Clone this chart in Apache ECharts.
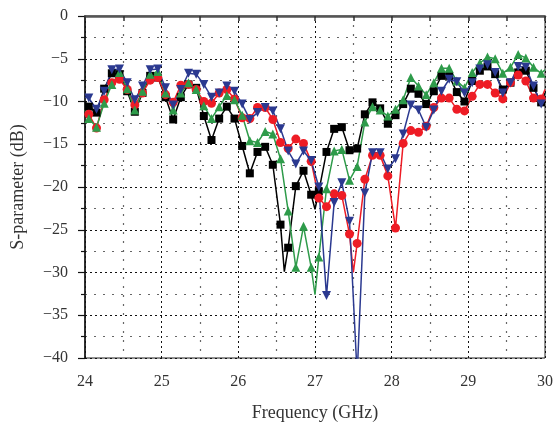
<!DOCTYPE html>
<html>
<head>
<meta charset="utf-8">
<script src="https://cdn.jsdelivr.net/npm/echarts@6/dist/echarts.min.js"></script>
<style>html,body{margin:0;padding:0;background:#fff;}#c{width:555px;height:431px;}</style>
</head>
<body>
<div id="c"></div>
<script>
// Marker frequencies: first marker and spacing (GHz)
const markerStart = 24.05;
const markerStep = 0.1;

// Marker values (dB), one per marker frequency
const blackVals = [-10.6,-11.3,-8.5,-6.7,-6.8,-8.8,-11.2,-9.0,-7.0,-7.2,
  -9.5,-12.1,-9.5,-8.0,-8.4,-11.7,-14.5,-12.0,-10.6,-12.0,
  -15.2,-18.4,-15.9,-15.3,-17.4,-24.4,-27.1,-19.9,-18.1,-20.9,
  -20.5,-15.9,-13.2,-13.0,-15.7,-15.5,-11.5,-10.1,-10.8,-12.6,
  -11.6,-10.3,-8.5,-9.1,-10.3,-8.8,-7.0,-7.0,-8.9,-10.0,
  -7.6,-6.4,-5.9,-6.8,-8.6,-7.8,-6.6,-6.4,-8.4,-10.1];
const redVals = [-11.5,-13.1,-9.8,-7.8,-7.4,-8.6,-10.4,-9.0,-7.5,-7.2,
  -9.2,-10.1,-8.1,-8.0,-8.6,-10.0,-10.2,-9.0,-8.6,-9.7,
  -11.9,-12.0,-10.7,-10.7,-12.1,-14.8,-15.5,-14.4,-14.9,-17.0,
  -21.3,-22.3,-20.8,-21.0,-25.5,-26.6,-19.1,-16.3,-16.3,-18.7,
  -24.8,-14.9,-13.4,-13.6,-12.9,-10.7,-9.6,-9.6,-10.9,-11.1,
  -9.4,-8.0,-8.0,-9.0,-9.7,-7.8,-6.9,-7.6,-9.6,-9.7];
const greenVals = [-12.0,-13.0,-10.2,-8.0,-6.6,-8.5,-11.0,-8.8,-6.8,-6.5,
  -9.0,-11.0,-9.0,-7.8,-8.6,-10.5,-12.0,-10.6,-9.3,-9.8,
  -11.6,-14.6,-14.8,-13.5,-13.8,-16.7,-22.8,-29.4,-24.6,-29.4,
  -28.2,-20.2,-15.8,-15.6,-19.2,-17.6,-12.4,-10.6,-11.0,-11.7,
  -10.9,-9.8,-7.2,-8.2,-9.2,-7.8,-6.1,-6.1,-7.6,-8.4,
  -6.6,-5.5,-4.8,-5.0,-6.7,-6.0,-4.5,-4.9,-6.0,-6.7];
const blueVals = [-9.6,-10.9,-8.8,-6.3,-6.2,-7.8,-9.8,-8.2,-6.3,-6.2,
  -8.4,-10.4,-8.6,-6.7,-6.8,-8.0,-9.5,-9.0,-8.2,-8.8,
  -10.3,-12.1,-11.3,-10.7,-11.1,-13.2,-15.8,-17.3,-15.8,-16.9,
  -20.0,-32.7,-21.8,-19.5,-24.0,-42.0,-20.7,-16.0,-16.0,-17.9,
  -16.7,-13.8,-10.4,-11.0,-13.0,-11.0,-8.8,-7.4,-7.7,-9.0,
  -7.8,-6.2,-5.7,-6.6,-9.0,-7.8,-5.9,-6.0,-8.2,-10.3];

// Line-only points between markers [GHz, dB]
const blackExtra = [[24.0,-10.0],[26.60,-29.9],[27.00,-22.6],[30.0,-9.0]];
const redExtra = [[24.0,-11.3],[27.50,-30.0],[30.0,-8.6]];
const greenExtra = [[24.0,-11.0],[27.00,-32.6],[30.0,-6.3]];
const blueExtra = [[24.0,-9.5],[30.0,-9.5]];

function build(vals, extra) {
  const pts = vals.map((v, i) => ({ value: [+(markerStart + i * markerStep).toFixed(2), v] }));
  extra.forEach(p => pts.push({ value: [p[0], p[1]], symbol: 'none' }));
  pts.sort((a, b) => a.value[0] - b.value[0]);
  return pts;
}

const font = 'Liberation Serif, Times New Roman, serif';
const chart = echarts.init(document.getElementById('c'), null, { renderer: 'canvas' });

function mk(name, color, vals, extra, symbol, size, rotate) {
  return {
    name, type: 'line', data: build(vals, extra),
    symbol, symbolSize: size, symbolRotate: rotate || 0,
    clip: true, animation: false,
    lineStyle: { color, width: 1.5 },
    itemStyle: { color },
    z: 3
  };
}

chart.setOption({
  animation: false,
  grid: { left: 85, right: 10, top: 16, bottom: 73, containLabel: false, outerBoundsMode: 'none',
    show: true, borderColor: '#222', borderWidth: 1, backgroundColor: 'transparent' },
  xAxis: {
    type: 'value', min: 24, max: 30, interval: 1,
    name: 'Frequency (GHz)', nameLocation: 'middle', nameGap: 46,
    nameTextStyle: { fontFamily: font, fontSize: 18, color: '#333' },
    axisLine: { show: true, lineStyle: { color: '#555', width: 2.5 } },
    axisTick: { show: true, inside: false, length: 5, lineStyle: { color: '#333', width: 1.5 } },
    minorTick: { show: true, splitNumber: 2, length: 5, lineStyle: { color: '#333', width: 1.5 } },
    axisLabel: { fontFamily: font, fontSize: 16, color: '#333', margin: 16 },
    splitLine: { show: true, lineStyle: { color: '#111', type: [2, 3], width: 1 } },
    minorSplitLine: { show: true, lineStyle: { color: '#666', type: [2, 7], width: 1.2 } }
  },
  yAxis: {
    type: 'value', min: -40, max: 0, interval: 5,
    name: 'S-parameter (dB)', nameLocation: 'middle', nameGap: 58,
    nameTextStyle: { fontFamily: font, fontSize: 18, color: '#333' },
    axisLine: { show: true, lineStyle: { color: '#111', width: 1.5 } },
    axisTick: { show: true, inside: false, length: 7, lineStyle: { color: '#111', width: 1.2 } },
    minorTick: { show: true, splitNumber: 2, length: 4, lineStyle: { color: '#111', width: 1.2 } },
    axisLabel: { fontFamily: font, fontSize: 16, color: '#333', margin: 17,
      formatter: v => String(v).replace('-', '\u2212') },
    splitLine: { show: true, lineStyle: { color: '#111', type: [2, 3], width: 1 } },
    minorSplitLine: { show: true, lineStyle: { color: '#666', type: [2, 7], width: 1.2 } }
  },
  series: [
    mk('Black', '#000000', blackVals, blackExtra, 'rect', 8),
    mk('Red', '#ee1c25', redVals, redExtra, 'circle', 9),
    mk('Green', '#2e9b4a', greenVals, greenExtra, 'triangle', 9),
    mk('Blue', '#2b3990', blueVals, blueExtra, 'triangle', 9, 180)
  ]
});
</script>
</body>
</html>
